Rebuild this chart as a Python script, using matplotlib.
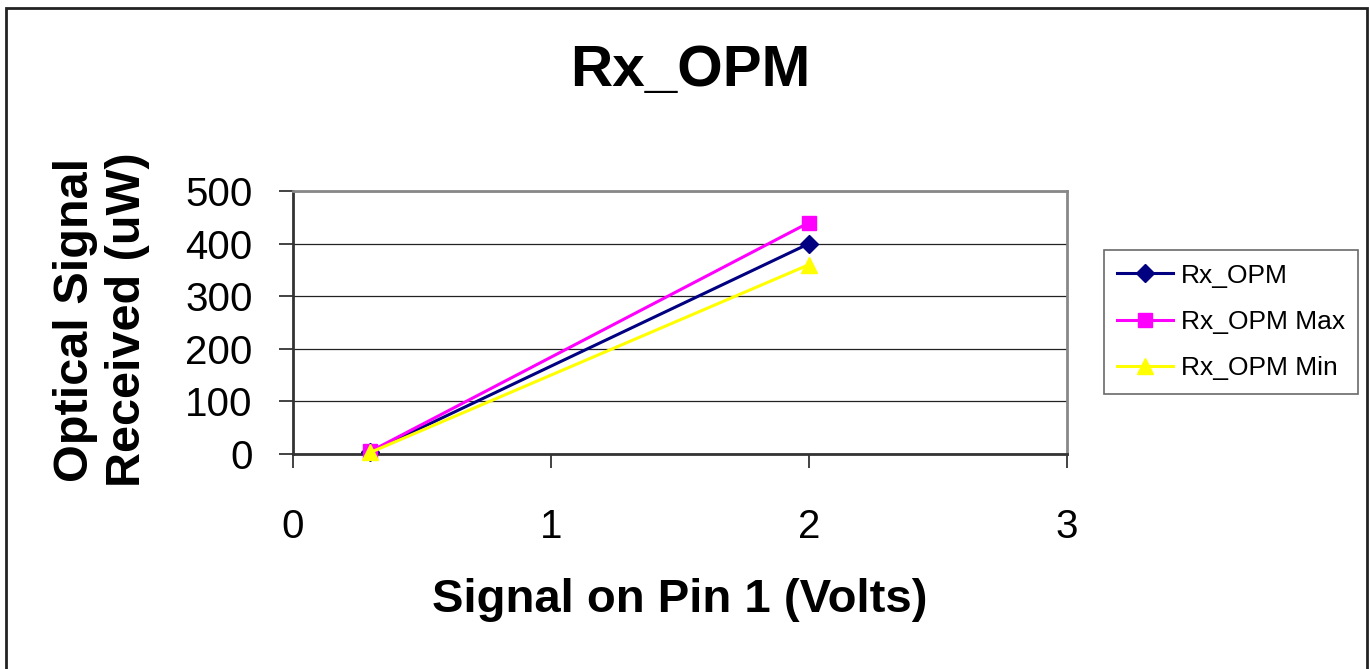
import matplotlib
matplotlib.use('Agg')
import matplotlib.pyplot as plt
from matplotlib.patches import Rectangle

#------------------------------
#   Data
#------------------------------

signal_volts = [0.3, 2.0]
rx_opm = [4, 400]
rx_opm_max = [5, 440]
rx_opm_min = [3, 360]

x_ticks = [0, 1, 2, 3]
y_ticks = [0, 100, 200, 300, 400, 500]

plt.rcParams['font.family'] = ['Liberation Sans', 'DejaVu Sans']

#---------------------
#   Figure and axes
#---------------------

fig = plt.figure(figsize=(13.7, 6.69), dpi=100)
ax = fig.add_axes([0.2139, 0.3214, 0.5650, 0.3931])

ax.plot(signal_volts, rx_opm, color="#000080", linewidth=2.2,
        marker='D', markersize=9, label='Rx_OPM', clip_on=False, zorder=3)
ax.plot(signal_volts, rx_opm_max, color="#FF00FF", linewidth=2.2,
        marker='s', markersize=10, label='Rx_OPM Max', clip_on=False, zorder=3)
ax.plot(signal_volts, rx_opm_min, color="#FFFF00", linewidth=2.2,
        marker='^', markersize=11, label='Rx_OPM Min', clip_on=False, zorder=3)

ax.set_xlim(0, 3)
ax.set_ylim(0, 500)
ax.set_xticks(x_ticks)
ax.set_yticks(y_ticks)
ax.tick_params(axis='both', direction='out', length=10, width=1.2,
               labelsize=29, color='#222222')
ax.tick_params(axis='x', pad=29)
ax.tick_params(axis='y', pad=19)

ax.yaxis.grid(True, color='#222222', linewidth=0.9)
ax.set_axisbelow(True)

ax.spines['left'].set_color('#333333')
ax.spines['left'].set_linewidth(2)
ax.spines['bottom'].set_color('#333333')
ax.spines['bottom'].set_linewidth(2)
ax.spines['top'].set_color('#888888')
ax.spines['top'].set_linewidth(2)
ax.spines['right'].set_color('#888888')
ax.spines['right'].set_linewidth(2)

#--------------------
#   Labels / title
#--------------------

ax.set_xlabel('Signal on Pin 1 (Volts)', fontsize=34, fontweight='bold', va='center')
ax.xaxis.set_label_coords(0.5, -0.555)
ax.set_ylabel('Optical Signal\nReceived (uW)', fontsize=35, fontweight='bold',
              va='center', ha='center', linespacing=1.2)
ax.yaxis.set_label_coords(-0.248, 0.51)

fig.suptitle('Rx_OPM', x=0.5036, y=0.894, va='center', fontsize=42, fontweight='bold')

leg = fig.legend(loc='center', bbox_to_anchor=(0.8985, 0.5187), fontsize=19,
                 frameon=True, fancybox=False, edgecolor='#444444',
                 handlelength=2.1, labelspacing=0.85, borderpad=0.5,
                 handletextpad=0.3, borderaxespad=0)
leg.get_frame().set_linewidth(1.2)

# outer chart border
fig.patches.append(Rectangle((0.0047, -0.02), 0.9934, 1.008, transform=fig.transFigure,
                             fill=False, edgecolor='#222222', linewidth=2))

plt.savefig("out.png", dpi=100)
